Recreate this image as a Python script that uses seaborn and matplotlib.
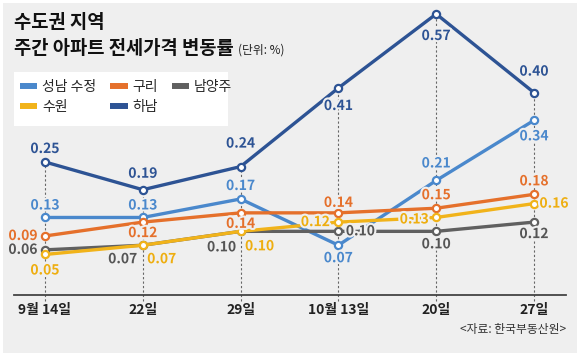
import matplotlib
matplotlib.use('Agg')
import matplotlib.pyplot as plt
import matplotlib.patheffects as pe
from matplotlib.patches import Rectangle
from matplotlib.lines import Line2D
import seaborn as sns
import pandas as pd
import numpy as np

# ---- data ----
dates = ['9월 14일', '22일', '29일', '10월 13일', '20일', '27일']
regions = ['성남 수정', '구리', '남양주', '수원', '하남']
seongnam = [0.13, 0.13, 0.17, 0.07, 0.21, 0.34]
guri = [0.09, 0.12, 0.14, 0.14, 0.15, 0.18]
namyangju = [0.06, 0.07, 0.10, 0.10, 0.10, 0.12]
suwon = [0.05, 0.07, 0.10, 0.12, 0.13, 0.16]
hanam = [0.25, 0.19, 0.24, 0.41, 0.57, 0.40]

# ---- styles ----
colors = {'성남 수정': '#4a88cc', '구리': '#e5702b', '남양주': '#606060',
          '수원': '#f1b31a', '하남': '#2d5394'}
label_colors = {'성남 수정': '#4a88cc', '구리': '#e5702b', '남양주': '#555555',
                '수원': '#eeae10', '하남': '#2d5394'}
# label offsets in pixels (dx, dy up)
offsets = {
    '성남 수정': [(0, 12), (0, 12), (0, 13), (0, -13), (0, 17), (0, -16)],
    '구리': [(-22, 0), (0, -11), (0, -11), (0, 10), (0, 13), (0, 13)],
    '남양주': [(-22, 0), (-20, -14), (-19, -16), (22, 0), (0, -13), (0, -12)],
    '수원': [(0, -16), (19, -14), (19, -15), (-23, 0), (-22, -2), (20, 0)],
    '하남': [(0, 13), (0, 16), (0, 23), (0, -18), (0, -22), (0, 21)],
}

series = {'성남 수정': seongnam, '구리': guri, '남양주': namyangju,
          '수원': suwon, '하남': hanam}
df = pd.DataFrame({
    'idx': np.tile(np.arange(len(dates)), len(regions)),
    'region': np.repeat(regions, len(dates)),
    'value': np.concatenate([series[r] for r in regions]),
})

sns.set_theme(style='white')
plt.rcParams['font.family'] = ['Noto Sans CJK KR', 'DejaVu Sans']

W, H = 580, 356
fig = plt.figure(figsize=(W / 100, H / 100), dpi=100)
fig.patch.set_facecolor('white')
bg = '#efefef'
fig.patches.append(Rectangle((3 / W, 3 / H), (W - 6) / W, (H - 6) / H,
                             transform=fig.transFigure, facecolor=bg,
                             edgecolor='none', zorder=-2))
# legend box
fig.patches.append(Rectangle((14 / W, 1 - 126 / H), 214 / W, 54 / H,
                             transform=fig.transFigure, facecolor='white',
                             edgecolor='none', zorder=-1))

AX_TOP, AX_BOT, AX_L, AX_R = 0, 295, 14, 566
ax = fig.add_axes([AX_L / W, 1 - AX_BOT / H, (AX_R - AX_L) / W, (AX_BOT - AX_TOP) / H])
ax.set_facecolor('none')

x0, x5 = 45, 534
step = (x5 - x0) / 5
ax.set_xlim(-(x0 - AX_L) / step, 5 + (AX_R - x5) / step)
ppu = 462.5
y0pix = 277.6
ax.set_ylim(-(AX_BOT - y0pix) / ppu, (y0pix - AX_TOP) / ppu)

sns.lineplot(data=df, x='idx', y='value', hue='region', hue_order=regions,
             palette=colors, marker='o', markersize=5.2, markerfacecolor='white',
             markeredgewidth=1.6, linewidth=2.4, legend=False, ax=ax, zorder=3)
for ln in ax.lines:
    ln.set_markeredgecolor(ln.get_color())
    ln.set_markerfacecolor('white')

# dashed guides
tops = np.max(np.array([series[r] for r in regions]), axis=0)
ybot = ax.get_ylim()[0]
for i, t in enumerate(tops):
    ax.plot([i, i], [ybot - 6 / ppu, t], ls=(0, (2, 2)), color='#666666', lw=0.8,
            zorder=1, clip_on=False)

for s in ['top', 'left', 'right']:
    ax.spines[s].set_visible(False)
ax.spines['bottom'].set_color('#444444')
ax.spines['bottom'].set_linewidth(1.3)
ax.set_yticks([])
ax.set_xticks(range(len(dates)))
ax.set_xticklabels(dates, fontsize=10, color='#222222', fontweight='bold')
ax.tick_params(axis='x', length=0, pad=6)
ax.set_xlabel('')
ax.set_ylabel('')

for r in regions:
    for i, v in enumerate(series[r]):
        dx, dy = offsets[r][i]
        ax.annotate(f'{v:.2f}', (i, v), xytext=(dx, dy), textcoords='offset pixels',
                    ha='center', va='center', fontsize=10, color=label_colors[r],
                    fontweight='bold', zorder=5,
                    path_effects=[pe.withStroke(linewidth=3, foreground=bg)])

# titles
t1 = fig.text(14 / W, 1 - 22 / H, '수도권 지역', fontsize=13.5, fontweight='bold',
              va='center', ha='left', color='#111111')
t2 = fig.text(14 / W, 1 - 48 / H, '주간 아파트 전세가격 변동률', fontsize=13.5,
              fontweight='bold', va='center', ha='left', color='#111111')
fig.canvas.draw()
bb = t2.get_window_extent()
fig.text((bb.x1 + 4) / W, 1 - 50 / H, '(단위: %)', fontsize=8.5, va='center',
         ha='left', color='#222222')

# legend
order = ['성남 수정', '수원', '구리', '하남', '남양주']
handles = [Line2D([0], [0], color=colors[r], lw=4.3, solid_capstyle='butt') for r in order]
fig.legend(handles, order, ncol=3, loc='upper left', bbox_to_anchor=(20 / W, 1 - 80 / H),
           frameon=False, handlelength=1.25, handletextpad=0.35,
           columnspacing=1.0, labelspacing=0.45, borderpad=0, borderaxespad=0,
           prop={'size': 10})

fig.text(566 / W, 1 - 330 / H, '<자료: 한국부동산원>', fontsize=8.5, ha='right',
         va='center', color='#333333')

fig.savefig('out.png', dpi=100, facecolor=fig.get_facecolor())
